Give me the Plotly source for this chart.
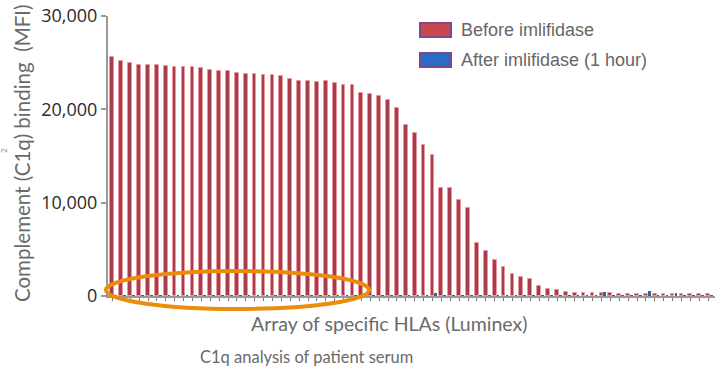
import plotly.graph_objects as go

# C1q binding (MFI) for each HLA bead, sorted by pre-treatment level
hla_index = list(range(68))
before_mfi = [
    25580, 25190, 24940, 24760, 24760, 24760, 24650, 24510, 24510, 24510,
    24400, 24220, 24120, 24120, 23940, 23760, 23760, 23690, 23690, 23580,
    23260, 23050, 23000, 22970, 22990, 22800, 22620, 22620, 21790, 21620,
    21400, 20970, 20150, 18270, 17470, 16180, 15140, 11540, 11540, 10290,
    9400, 5730, 4820, 3910, 3110, 2360, 2070, 1770, 1100, 750,
    640, 460, 350, 320, 300, 280, 270, 260, 250, 240,
    240, 230, 220, 220, 210, 200, 200, 200,
]
after_mfi = [
    60, 60, 60, 60, 60, 60, 60, 60, 60, 60,
    60, 60, 60, 60, 60, 60, 60, 60, 60, 60,
    60, 60, 60, 60, 60, 60, 60, 60, 60, 60,
    60, 60, 60, 60, 60, 60, 300, 60, 60, 60,
    60, 60, 60, 60, 60, 60, 60, 60, 60, 60,
    60, 60, 60, 60, 60, 400, 60, 60, 60, 60,
    500, 60, 60, 300, 60, 60, 80, 60,
]
y_ticks = [0, 10000, 20000, 30000]
y_tick_labels = ["0", "10,000", "20,000", "30,000"]

# plot area in pixels: x 108..715, y 16..296
L, T, W, H = 108, 16, 607, 280
FIG_W, FIG_H = 715, 366


def px_x(p):
    return (p - L) / W


def px_y(p):
    return (T + H - p) / H


fig = go.Figure()
fig.add_trace(go.Bar(
    x=hla_index, y=before_mfi, name="Before imlifidase",
    width=0.42, offset=-0.22,
    marker=dict(color="#a83d49", line=dict(color="rgba(235,150,160,0.8)", width=1)),
    showlegend=False,
))
fig.add_trace(go.Bar(
    x=hla_index, y=after_mfi, name="After imlifidase (1 hour)",
    width=0.3, offset=0.22,
    marker=dict(color="#2e62a8", line=dict(width=0)),
    showlegend=False,
))

fig.update_layout(
    width=FIG_W, height=FIG_H,
    margin=dict(l=L, r=FIG_W - L - W, t=T, b=FIG_H - T - H, pad=0),
    paper_bgcolor="white", plot_bgcolor="white",
    barmode="overlay", bargap=0,
    xaxis=dict(
        range=[-0.5, 67.77], tickmode="array", tickvals=hla_index,
        showticklabels=False, ticks="outside", ticklen=3, tickwidth=1,
        tickcolor="#777", showline=True, linecolor="#999", linewidth=1.5,
        showgrid=False, zeroline=False,
    ),
    yaxis=dict(
        range=[0, 30000], tickmode="array", tickvals=y_ticks,
        ticktext=y_tick_labels, ticks="outside", ticklen=5, tickwidth=1.5,
        tickcolor="#999", showline=True, linecolor="#999", linewidth=2,
        showgrid=False, zeroline=False,
        tickfont=dict(family="Open Sans", size=18, color="#2a2a2a"),
    ),
)

anns = [
    dict(text="Complement (C1q) binding  (MFI)", x=px_x(22), y=px_y(153),
         textangle=-90, font=dict(family="Lato", size=20.5, color="#6a6a6a")),
    dict(text="2", x=px_x(4), y=px_y(150), textangle=-90,
         font=dict(family="Lato", size=8, color="#999999")),
    dict(text="Array of specific HLAs (Luminex)", x=px_x(389), y=px_y(323),
         font=dict(family="Lato", size=19.5, color="#6a6a6a")),
    dict(text="C1q analysis of patient serum", x=px_x(306), y=px_y(357),
         font=dict(family="Lato", size=16.5, color="#6a6a6a")),
    dict(text="Before imlifidase", x=px_x(459), y=px_y(30), xanchor="left",
         font=dict(family="Liberation Sans", size=18, color="#666666")),
    dict(text="After imlifidase (1 hour)", x=px_x(459), y=px_y(60), xanchor="left",
         font=dict(family="Liberation Sans", size=18, color="#666666")),
]
for a in anns:
    a.setdefault("xanchor", "center")
    fig.add_annotation(xref="paper", yref="paper", showarrow=False,
                       yanchor="middle", **a)

# legend swatches
for y0, fill in [(23, "#c9484f"), (53, "#2a6cc4")]:
    fig.add_shape(type="rect", xref="paper", yref="paper",
                  x0=px_x(420), x1=px_x(451), y0=px_y(y0), y1=px_y(y0 + 14),
                  fillcolor=fill, line=dict(color="#7a4a8c", width=2))

# highlight ring around the baseline of the after-treatment bars
fig.add_shape(type="circle", xref="paper", yref="paper",
              x0=px_x(106), x1=px_x(369), y0=px_y(271), y1=px_y(309),
              line=dict(color="#ec8c0c", width=4), fillcolor="rgba(0,0,0,0)")

fig.write_html("out.html")
